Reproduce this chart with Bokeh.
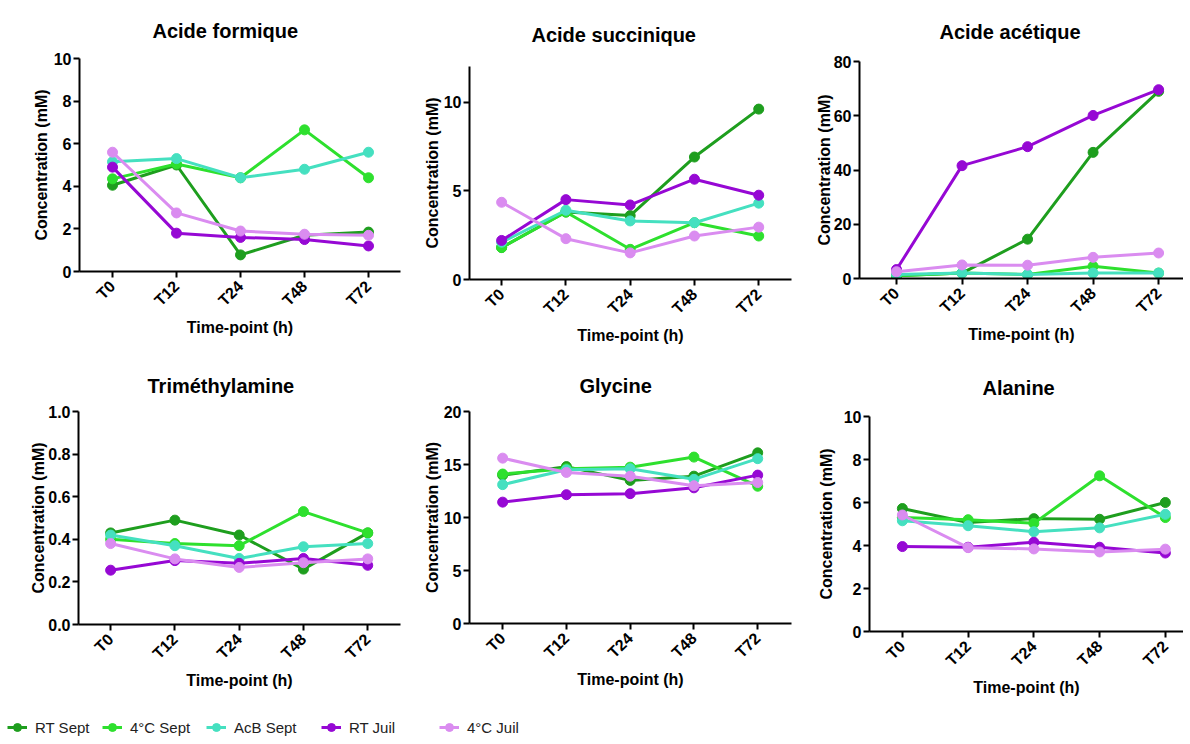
from math import pi
from bokeh.plotting import figure
from bokeh.layouts import column, row
from bokeh.models import Range1d, FixedTicker, Legend, LegendItem
from bokeh.embed import file_html
from bokeh.resources import INLINE

# ---------------- data ----------------
timepoints = ["T0", "T12", "T24", "T48", "T72"]
series_names = ["RT Sept", "4°C Sept", "AcB Sept", "RT Juil", "4°C Juil"]
series_colors = ["#1E9E1E", "#2EE02E", "#45E0C0", "#9608D4", "#DA8CF0"]

titles = ["Acide formique", "Acide succinique", "Acide acétique",
          "Triméthylamine", "Glycine", "Alanine"]

# Acide formique
formique_rt_sept = [4.05, 5.0, 0.78, 1.7, 1.85]
formique_4c_sept = [4.35, 5.05, 4.4, 6.65, 4.4]
formique_acb_sept = [5.15, 5.3, 4.4, 4.8, 5.6]
formique_rt_juil = [4.9, 1.8, 1.6, 1.5, 1.2]
formique_4c_juil = [5.6, 2.75, 1.9, 1.75, 1.7]

# Acide succinique
succinique_rt_sept = [1.8, 3.8, 3.6, 6.9, 9.6]
succinique_4c_sept = [1.8, 3.8, 1.7, 3.2, 2.45]
succinique_acb_sept = [2.1, 3.9, 3.3, 3.2, 4.3]
succinique_rt_juil = [2.2, 4.5, 4.2, 5.65, 4.75]
succinique_4c_juil = [4.35, 2.3, 1.5, 2.45, 2.95]

# Acide acétique
acetique_rt_sept = [1.0, 2.0, 14.5, 46.5, 69.0]
acetique_4c_sept = [1.0, 2.0, 1.5, 4.5, 2.0]
acetique_acb_sept = [1.5, 2.0, 1.5, 2.0, 2.0]
acetique_rt_juil = [3.3, 41.6, 48.6, 60.1, 69.6]
acetique_4c_juil = [2.5, 5.0, 4.9, 7.8, 9.4]

# Triméthylamine
tma_rt_sept = [0.43, 0.49, 0.42, 0.26, 0.43]
tma_4c_sept = [0.40, 0.38, 0.37, 0.53, 0.43]
tma_acb_sept = [0.42, 0.37, 0.31, 0.365, 0.38]
tma_rt_juil = [0.255, 0.30, 0.287, 0.31, 0.278]
tma_4c_juil = [0.38, 0.308, 0.268, 0.29, 0.308]

# Glycine
glycine_rt_sept = [14.0, 14.8, 13.5, 13.9, 16.1]
glycine_4c_sept = [14.1, 14.6, 14.75, 15.7, 12.95]
glycine_acb_sept = [13.1, 14.5, 14.6, 13.6, 15.55]
glycine_rt_juil = [11.45, 12.15, 12.25, 12.8, 14.0]
glycine_4c_juil = [15.6, 14.25, 13.9, 13.0, 13.3]

# Alanine
alanine_rt_sept = [5.72, 5.07, 5.25, 5.22, 6.0]
alanine_4c_sept = [5.3, 5.2, 5.03, 7.24, 5.3]
alanine_acb_sept = [5.15, 4.92, 4.64, 4.82, 5.45]
alanine_rt_juil = [3.95, 3.92, 4.15, 3.92, 3.65]
alanine_4c_juil = [5.42, 3.9, 3.84, 3.7, 3.83]

panel_series = [
    [formique_rt_sept, formique_4c_sept, formique_acb_sept, formique_rt_juil, formique_4c_juil],
    [succinique_rt_sept, succinique_4c_sept, succinique_acb_sept, succinique_rt_juil, succinique_4c_juil],
    [acetique_rt_sept, acetique_4c_sept, acetique_acb_sept, acetique_rt_juil, acetique_4c_juil],
    [tma_rt_sept, tma_4c_sept, tma_acb_sept, tma_rt_juil, tma_4c_juil],
    [glycine_rt_sept, glycine_4c_sept, glycine_acb_sept, glycine_rt_juil, glycine_4c_juil],
    [alanine_rt_sept, alanine_4c_sept, alanine_acb_sept, alanine_rt_juil, alanine_4c_juil],
]

y_max = [10, 12, 80, 1.0, 20, 10]
formique_ticks = [0, 2, 4, 6, 8, 10]
succinique_ticks = [0, 5, 10]
acetique_ticks = [0, 20, 40, 60, 80]
tma_ticks = [0.0, 0.2, 0.4, 0.6, 0.8, 1.0]
tma_tick_labels = ["0.0", "0.2", "0.4", "0.6", "0.8", "1.0"]
glycine_ticks = [0, 5, 10, 15, 20]
alanine_ticks = [0, 2, 4, 6, 8, 10]
panel_ticks = [formique_ticks, succinique_ticks, acetique_ticks, tma_ticks, glycine_ticks, alanine_ticks]

y_label = "Concentration (mM)"
x_label = "Time-point (h)"

# ---------------- layout / style ----------------
FONT = "Liberation Sans"
# (width, height, min_left, min_right, min_top, min_bottom, x_start, x_end,
#  y-label standoff, title offset from frame left)
geom = [
    (414, 357, 79, 14, 58, 86, -0.516, 4.50, 1, 73),
    (395, 357, 55, 18, 66, 78, -0.50, 4.51, 0, 62),
    (374, 357, 50, 0, 61, 79, -0.565, 4.38, -2, 80),
    (414, 342, 78, 14, 54, 75, -0.50, 4.51, -2, 69),
    (395, 342, 55, 18, 54, 76, -0.52, 4.53, 0, 110),
    (374, 342, 60, 0, 59, 64, -0.50, 4.276, 6, 113),
]

figs = []
for k in range(6):
    w, h, ml, mr, mt, mb, xs, xe, ystand, toff = geom[k]
    p = figure(width=w, height=h, output_backend="svg", toolbar_location=None,
               x_range=Range1d(xs, xe), y_range=Range1d(0, y_max[k]),
               min_border_left=ml, min_border_right=mr,
               min_border_top=mt, min_border_bottom=mb)
    p.outline_line_color = None
    p.xgrid.visible = False
    p.ygrid.visible = False
    p.title.text = titles[k]
    p.title.text_font = FONT
    p.title.text_font_size = "20px"
    p.title.text_font_style = "bold"
    p.title.text_color = "black"
    p.title.align = "left"
    p.title.offset = toff
    # use all of the top border for the title panel (keeps the frame in place)
    p.title.standoff = mt - 24

    xs_idx = list(range(len(timepoints)))
    for vals, color in zip(panel_series[k], series_colors):
        p.line(xs_idx, vals, line_color=color, line_width=3)
        p.scatter(xs_idx, vals, size=10, fill_color=color, line_color=color)

    for ax in (p.xaxis[0], p.yaxis[0]):
        ax.axis_line_width = 2
        ax.axis_line_color = "black"
        ax.major_tick_line_width = 2
        ax.major_tick_line_color = "black"
        ax.major_tick_in = 0
        ax.major_tick_out = 6
        ax.minor_tick_line_color = None
        ax.major_label_text_font = FONT
        ax.major_label_text_font_size = "16px"
        ax.major_label_text_font_style = "bold"
        ax.major_label_text_color = "black"
        ax.axis_label_text_font = FONT
        ax.axis_label_text_font_size = "16px"
        ax.axis_label_text_font_style = "bold"
        ax.axis_label_text_color = "black"

    p.xaxis.ticker = FixedTicker(ticks=xs_idx)
    p.xaxis.major_label_overrides = {i: t for i, t in enumerate(timepoints)}
    p.xaxis.major_label_orientation = pi / 4
    p.xaxis.major_label_standoff = 6
    p.xaxis.axis_label = x_label
    p.xaxis.axis_label_standoff = 1

    p.yaxis.ticker = FixedTicker(ticks=panel_ticks[k])
    if k == 3:
        p.yaxis.major_label_overrides = {t: l for t, l in zip(tma_ticks, tma_tick_labels)}
    p.yaxis.major_label_standoff = 2
    p.yaxis.axis_label = y_label
    p.yaxis.axis_label_standoff = ystand
    figs.append(p)

# ---------------- legend strip ----------------
lp = figure(width=1181, height=38, output_backend="svg", toolbar_location=None,
            x_range=Range1d(0, 1), y_range=Range1d(0, 1),
            x_axis_type=None, y_axis_type=None,
            min_border_left=0, min_border_right=0, min_border_top=0, min_border_bottom=0)
lp.outline_line_color = None
lp.xgrid.visible = False
lp.ygrid.visible = False
legend_x = [7, 102, 206, 321, 439]
for name, color, lx in zip(series_names, series_colors, legend_x):
    # proxy renderers (one point outside the visible range) just for the legend key
    rl = lp.line(x=[-5, -4], y=[-5, -5], line_color=color, line_width=3)
    rs = lp.scatter(x=[-5], y=[-5], size=10, fill_color=color, line_color=color)
    leg = Legend(items=[LegendItem(label=name, renderers=[rl, rs])],
                 location=(lx, 0), orientation="horizontal",
                 margin=0, padding=0, glyph_width=20, glyph_height=20,
                 label_standoff=8, label_text_font=FONT,
                 label_text_font_size="15px", label_text_color="#222222",
                 border_line_color=None, background_fill_alpha=0)
    lp.add_layout(leg, "center")

layout = column(row(column(figs[0]), column(figs[1]), column(figs[2])),
                row(column(figs[3]), column(figs[4]), column(figs[5])),
                lp)

open("out.html", "w").write(file_html(layout, INLINE))
